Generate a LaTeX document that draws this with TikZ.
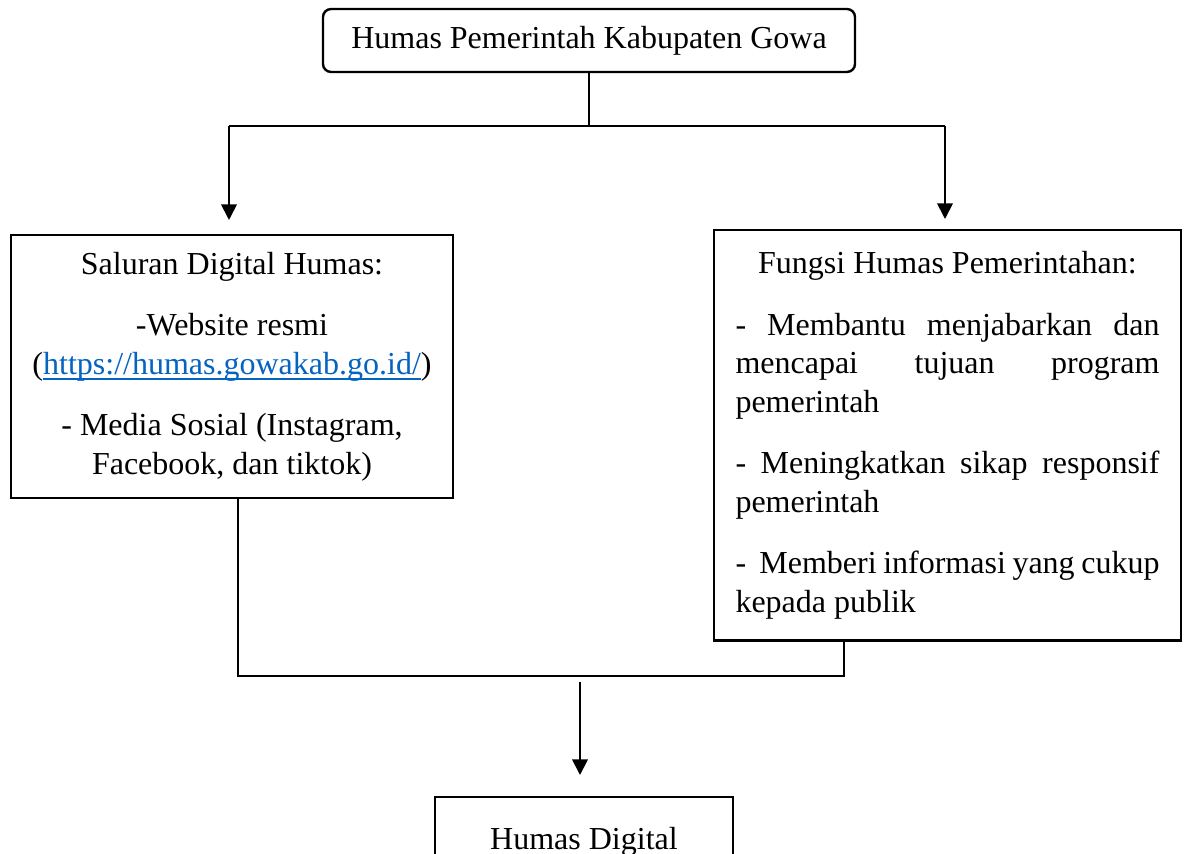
\documentclass[tikz,border=0pt]{standalone}
\usepackage{fontspec}
\setmainfont{Liberation Serif}
\usepackage{tikz}
\usetikzlibrary{positioning, arrows.meta, calc}
\definecolor{linkblue}{HTML}{0563C1}
\newcommand{\weblink}[1]{{\color{linkblue}\setbox0\hbox{#1}\rlap{\rule[-2pt]{\wd0}{0.6pt}}\box0}}

\begin{document}
\begin{tikzpicture}[x=0.375pt, y=-0.375pt, >={Triangle[length=5.9pt, width=5.9pt]},
		kotak/.style={draw, line width=0.9pt, inner sep=8pt, font={\fontsize{12pt}{14.5pt}\selectfont}},
		garis/.style={line width=0.7pt}]
			\useasboundingbox (0,0) rectangle (1186,854);
			
			% Kotak atas
			\node[kotak, rounded corners=3pt, inner ysep=5pt, minimum width=199.5pt, minimum height=23.6pt] (humas) at (589,40.5) {Humas Pemerintah Kabupaten Gowa};
			
			% Saluran digital (kiri)
			\node[kotak, align=center, inner ysep=5pt, minimum width=165.75pt, minimum height=98.6pt] (saluran) at (232,366.5)
				{Saluran Digital Humas:\\[8.5pt] -Website resmi\\ (\weblink{https://humas.gowakab.go.id/})\\[8.5pt] - Media Sosial (Instagram,\\ Facebook, dan tiktok)};
			
			% Fungsi humas (kanan)
			\node[kotak, anchor=north, text width=159pt, align=justify] (fungsi) at (947.5,229)
				{\parindent=0pt \parskip=8.5pt \tolerance=10000 \hyphenpenalty=10000
				{\centering Fungsi Humas Pemerintahan:\par}
				- Membantu menjabarkan dan\linebreak mencapai tujuan program\linebreak pemerintah\par
				- Meningkatkan sikap responsif\linebreak pemerintah\par
				-\ \ Memberi informasi yang cukup\linebreak kepada publik};
			
			% Kotak bawah
			\node[kotak, anchor=north, minimum width=111.75pt, minimum height=33.4pt] (digital) at (584,796) {Humas Digital};
			
			% Titik percabangan
			\coordinate (cabangL) at (229,126);
			\coordinate (cabangR) at (945,126);
			\coordinate (ujungL) at (229,220);
			\coordinate (ujungR) at (945,219);
			\coordinate (gabungL) at (238,676);
			\coordinate (gabungR) at (844,676);
			\coordinate (turun) at (580,682);
			\coordinate (ujungB) at (580,775);
			
			% Garis penghubung
			\draw[garis] (humas.south) -- (humas.south |- cabangL);
			\draw[garis] (cabangL) -- (cabangR);
			\draw[garis, ->] (cabangL) -- (ujungL);
			\draw[garis, ->] (cabangR) -- (ujungR);
			\draw[garis] (saluran.south -| gabungL) -- (gabungL) -- (gabungR) -- (fungsi.south -| gabungR);
			\draw[garis, ->] (turun) -- (ujungB);
		\end{tikzpicture}
\end{document}
